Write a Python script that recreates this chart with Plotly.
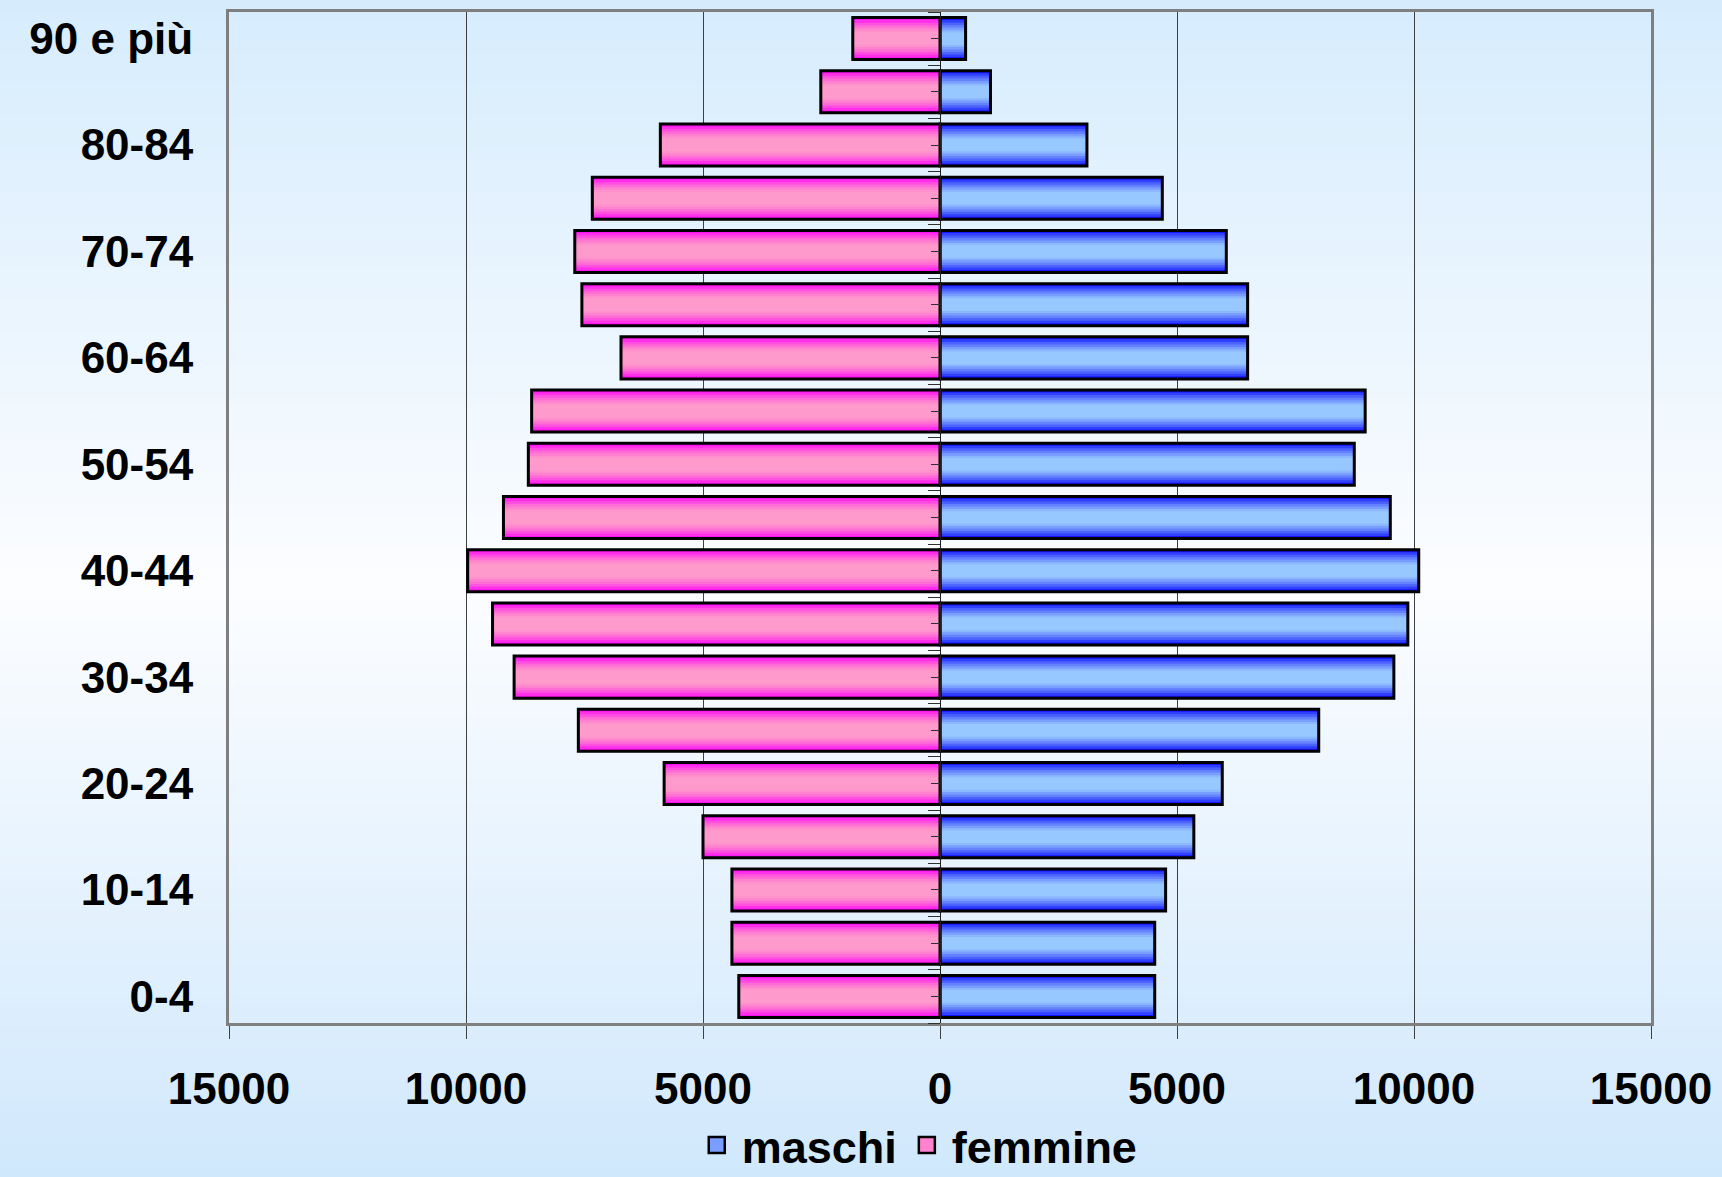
import plotly.graph_objects as go

# ---- data ----
age_groups = ["0-4", "5-9", "10-14", "15-19", "20-24", "25-29", "30-34", "35-39",
              "40-44", "45-49", "50-54", "55-59", "60-64", "65-69", "70-74",
              "75-79", "80-84", "85-89", "90 e più"]
maschi = [4530, 4530, 4760, 5355, 5955, 7990, 9575, 9870, 10100, 9500,
          8740, 8970, 6490, 6490, 6040, 4690, 3100, 1065, 540]
femmine = [4245, 4390, 4390, 5000, 5820, 7630, 8985, 9440, 9965, 9210,
           8685, 8615, 6730, 7555, 7705, 7335, 5900, 2515, 1840]
x_ticks = [-15000, -10000, -5000, 0, 5000, 10000, 15000]
x_ticktext = ["15000", "10000", "5000", "0", "5000", "10000", "15000"]
y_labels = age_groups[::2]

FONT = "Liberation Sans, Arial, sans-serif"
W, H = 1722, 1177
ML, MR, MT, MB = 229, 71, 12, 154
BAR_W = 0.79

blue_bands = ["#1414ff", "#3040ff", "#4c62ff", "#6482ff", "#7a9eff", "#8cb8ff", "#97c8ff"]
pink_bands = ["#ff10f4", "#ff30ea", "#ff50e0", "#ff6cd6", "#ff82d0", "#ff92cc", "#ff9acc"]
fracs = [1.0, 0.88, 0.76, 0.64, 0.52, 0.40, 0.30]

fig = go.Figure()

def add_series(values, sign, bands, name, legend_color):
    xs = [sign * v for v in values]
    for f, c in zip(fracs, bands):
        fig.add_trace(go.Bar(x=xs, y=age_groups, orientation="h", width=BAR_W * f,
                             marker=dict(color=c, line=dict(width=0)),
                             showlegend=False, hoverinfo="skip"))
    # outline on top
    fig.add_trace(go.Bar(x=xs, y=age_groups, orientation="h", width=BAR_W,
                         marker=dict(color="rgba(0,0,0,0)", line=dict(color="black", width=3)),
                         showlegend=False, name=name,
                         hovertemplate="%{y}: " + "%{customdata}<extra>" + name + "</extra>",
                         customdata=values))
    # legend entry
    fig.add_trace(go.Scatter(x=[None], y=[None], mode="markers", name=name,
                             marker=dict(symbol="square", size=22, color=legend_color,
                                         line=dict(color="black", width=2.5)),
                             showlegend=True))

add_series(maschi, 1, blue_bands, "maschi", "#7a9eff")
add_series(femmine, -1, pink_bands, "femmine", "#ff82d0")

# invisible trace to hold the zero axis with category ticks
fig.add_trace(go.Scatter(x=[0], y=[None], yaxis="y2", mode="markers",
                         showlegend=False, hoverinfo="skip"))

# ---- background gradient (decoration) ----
def lerp(a, b, t):
    return tuple(round(a[i] + (b[i] - a[i]) * t) for i in range(3))

top_c = (214, 236, 253)
mid_c = (252, 253, 255)
bot_c = (208, 232, 252)
ph = H - MT - MB
shapes = []
N = 110
for i in range(N):
    py0 = H * i / N
    py1 = H * (i + 1) / N + 1
    t = (i + 0.5) / N
    if t < 0.5:
        c = lerp(top_c, mid_c, t / 0.5)
    else:
        c = lerp(mid_c, bot_c, (t - 0.5) / 0.5)
    y0 = (H - MB - py0) / ph
    y1 = (H - MB - py1) / ph
    shapes.append(dict(type="rect", xref="paper", yref="paper",
                       x0=-ML / (W - ML - MR) - 0.01, x1=1 + MR / (W - ML - MR) + 0.01,
                       y0=y1, y1=y0, line=dict(width=0),
                       fillcolor="rgb(%d,%d,%d)" % c, layer="below"))

fig.update_layout(
    width=W, height=H,
    margin=dict(l=ML, r=MR, t=MT, b=MB, autoexpand=False),
    barmode="overlay",
    paper_bgcolor="rgb(230,243,254)",
    plot_bgcolor="rgba(0,0,0,0)",
    shapes=shapes,
    font=dict(family=FONT, color="black"),
    showlegend=True,
    legend=dict(orientation="h", x=0.484, xanchor="center", y=-0.121, yanchor="middle",
                font=dict(family=FONT, size=45, weight="bold", color="black"),
                bgcolor="rgba(0,0,0,0)", itemwidth=40, traceorder="normal"),
    xaxis=dict(range=[-15000, 15000], tickmode="array", tickvals=x_ticks,
               ticktext=x_ticktext, showgrid=True, gridcolor="#404040", gridwidth=1,
               zeroline=False, showline=True, mirror=True, linecolor="#7f7f7f",
               linewidth=3, ticks="outside", ticklen=13, tickcolor="#404040",
               tickwidth=1, ticklabelstandoff=12, automargin=False,
               tickfont=dict(family=FONT, size=44, weight="bold", color="black"),
               fixedrange=True),
    yaxis=dict(type="category", categoryorder="array", categoryarray=age_groups,
               range=[-0.5, 18.5], tickmode="array", tickvals=y_labels, ticktext=y_labels,
               showgrid=False, zeroline=False, showline=True, mirror=True,
               linecolor="#7f7f7f", linewidth=3, ticks="", ticklabelstandoff=24,
               automargin=False,
               tickfont=dict(family=FONT, size=44, weight="bold", color="black"),
               fixedrange=True),
    yaxis2=dict(overlaying="y", anchor="free", position=0.5, side="left",
                range=[-0.5, 18.5], showgrid=False, zeroline=False,
                showline=True, linecolor="#202020", linewidth=1,
                tickmode="array", tickvals=[i - 0.5 for i in range(20)],
                ticks="outside", ticklen=12, tickcolor="#303030", tickwidth=1,
                showticklabels=False, automargin=False,
                minor=dict(tickvals=list(range(19)), ticks="outside", ticklen=9,
                           tickcolor="#303030", tickwidth=1),
                fixedrange=True),
)

fig.write_html("out.html", config={"displayModeBar": False},
               post_script="document.body.style.margin='0';document.body.style.overflow='hidden';")
